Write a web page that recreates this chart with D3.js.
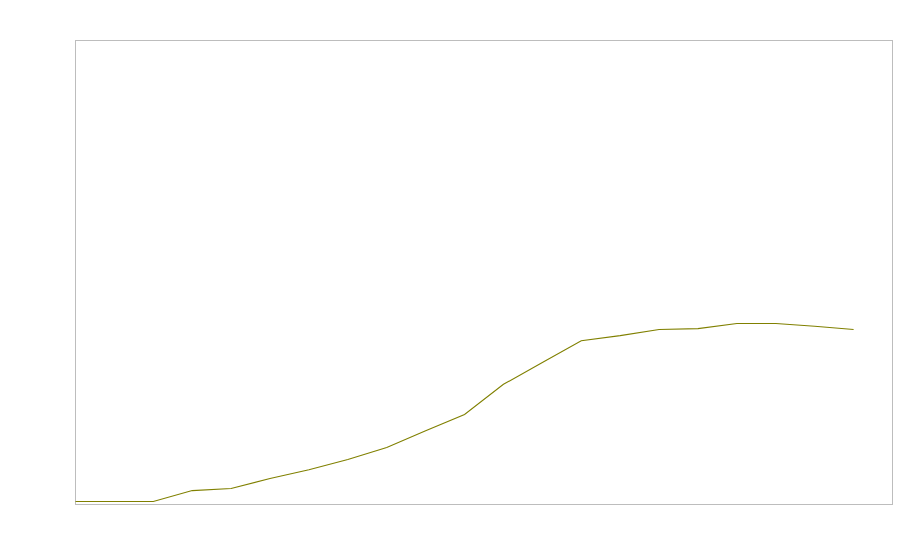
<!DOCTYPE html>
<html>
<head>
<meta charset="utf-8">
<script src="https://cdn.jsdelivr.net/npm/d3@7"></script>
<style>
  html, body { margin: 0; padding: 0; background: #fff; }
  svg { display: block; }
</style>
</head>
<body>
<svg id="chart" width="900" height="560"></svg>
<script>
// Data
const categories = [0,1,2,3,4,5,6,7,8,9,10,11,12,13,14,15,16,17,18,19,20];
const values = [0.65,0.65,0.65,3.0,3.45,5.6,7.5,9.7,12.3,15.9,19.4,25.9,30.6,35.3,36.4,37.7,37.9,39.0,39.0,38.4,37.7];
const xDomain = [0, 21];
const yDomain = [0, 100];

const svg = d3.select("#chart");
const margin = {left: 75.5, top: 40.5, right: 7.5, bottom: 55.5};
const W = 900, H = 560;
const iw = W - margin.left - margin.right;
const ih = H - margin.top - margin.bottom;

const x = d3.scaleLinear().domain(xDomain).range([margin.left, margin.left + iw]);
const y = d3.scaleLinear().domain(yDomain).range([margin.top + ih, margin.top]);

svg.append("rect")
  .attr("x", margin.left).attr("y", margin.top)
  .attr("width", iw).attr("height", ih)
  .attr("fill", "none").attr("stroke", "#bdbdbd").attr("stroke-width", 1);

const line = d3.line()
  .x((d, i) => x(categories[i]))
  .y(d => y(d));

svg.append("path")
  .datum(values)
  .attr("d", line)
  .attr("fill", "none")
  .attr("stroke", "#808000")
  .attr("stroke-width", 1.1);
</script>
</body>
</html>
